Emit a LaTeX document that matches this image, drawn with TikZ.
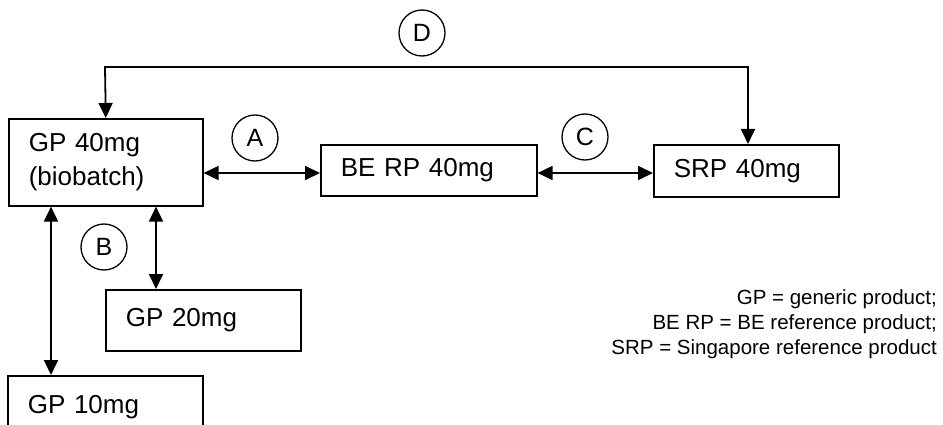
\documentclass[tikz,border=0pt]{standalone}
\usepackage{fontspec}
\setmainfont{Liberation Sans}
\usetikzlibrary{arrows.meta}
\begin{document}
\begin{tikzpicture}[x=1pt,y=-1pt,
  box/.style={draw, line width=1.6pt, rectangle, inner xsep=20pt, inner ysep=0pt, align=left,
    font=\fontsize{26}{34}\selectfont, anchor=north west},
  tag/.style={draw, circle, line width=1.3pt, minimum size=46pt, inner sep=0pt,
    font=\fontsize{25}{30}\selectfont},
  both/.style={line width=1.8pt, line join=miter,
    {Triangle[length=15pt,width=14pt]}-{Triangle[length=15pt,width=14pt]}},
  note/.style={font=\fontsize{20.5}{25}\selectfont, anchor=base east, inner sep=0pt}]
\useasboundingbox (0,0) rectangle (943,425);
\clip (0,0) rectangle (943,425);
% boxes
\node[box, text width=154pt, minimum height=87pt] (gp40) at (8,118) {GP 40mg\\(biobatch)};
\node[box, text width=176pt, minimum height=51pt] (berp) at (320,144) {BE RP 40mg};
\node[box, text width=145pt, minimum height=52pt] (srp) at (653,144) {SRP 40mg};
\node[box, text width=155pt, minimum height=61pt] (gp20) at (105,289) {GP 20mg};
\node[box, text width=155pt, minimum height=62pt] (gp10) at (7,375) {GP 10mg};
% circled labels
\node[tag] (ca) at (255,138) {A};
\node[tag] (cb) at (104,247) {B};
\node[tag] (cc) at (585,137) {C};
\node[tag] (cd) at (422,33) {D};
% connectors
\coordinate (dl) at (105,67);
\coordinate (dr) at (748,67);
\draw[both] (gp40.north) -- (dl) -- (dr) -- (dr |- srp.north);
\draw[both] (gp40.east |- 0,173) -- (berp.west |- 0,173);
\draw[both] (berp.east |- 0,173) -- (srp.west |- 0,173);
\draw[both] (gp40.south -| 51,0) -- (gp10.north -| 51,0);
\draw[both] (gp40.south -| 156,0) -- (gp20.north -| 156,0);
% legend
\node[note] (l1) at (937,304) {GP = generic product;};
\node[note] (l2) at (937,329) {BE RP = BE reference product;};
\node[note] (l3) at (937,354) {SRP = Singapore reference product};
\end{tikzpicture}
\end{document}
